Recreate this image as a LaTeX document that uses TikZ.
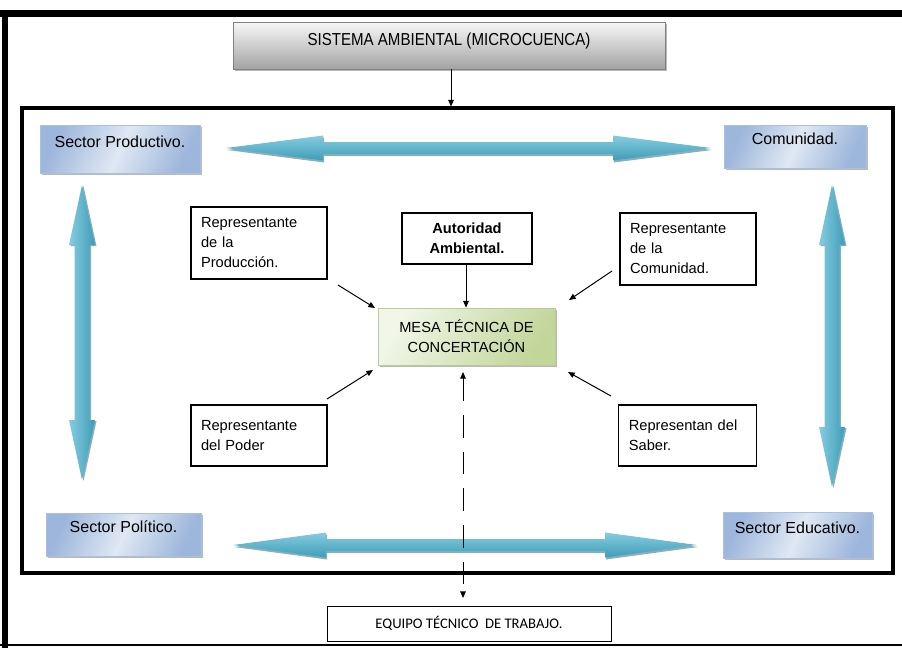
\documentclass[tikz,border=0pt]{standalone}
\usepackage{fontspec}
\setmainfont{Liberation Sans}
\newfontfamily\calibrifont{Carlito}
\usetikzlibrary{arrows.meta,shadows}

\definecolor{secDark}{HTML}{9DB6DB}
\definecolor{secLight}{HTML}{DFE8F3}
\definecolor{secEdge}{HTML}{A9C0E0}
\definecolor{greyTop}{HTML}{F7F7F7}
\definecolor{greyBot}{HTML}{A3A3A3}
\definecolor{greenLight}{HTML}{F1F6E8}
\definecolor{greenDark}{HTML}{C2D69A}
\definecolor{greenEdge}{HTML}{B9CC93}
\definecolor{tealLight}{HTML}{86CCDE}
\definecolor{tealDark}{HTML}{3E9DB8}
\definecolor{tealShadow}{HTML}{2A6E82}

% lift the label of a sector box towards its top edge
\newcommand\liftlabel[1]{\raisebox{5.5pt}[\height][\depth]{#1}}

\begin{document}
\begin{tikzpicture}[
  x=0.75pt, y=-0.75pt,
  every node/.style={font=\fontsize{11}{15}\selectfont},
  boxsize/.style 2 args={minimum width=#1*0.75pt, minimum height=#2*0.75pt, inner sep=0pt},
  softshadow/.style={drop shadow={shadow xshift=1.6pt, shadow yshift=-1.6pt, fill=black!55, opacity=.5}},
  sector/.style={draw=secEdge, line width=0.6pt, left color=secDark, right color=secDark,
    middle color=secLight, shading angle=65, softshadow, font=\fontsize{12}{15}\selectfont},
  plainbox/.style={draw=black, line width=0.8pt, fill=white, align=left, text width=87pt},
  link/.style={line width=0.75pt, -{Triangle[length=5pt,width=4.2pt]}},
  bigarrow/.style={top color=tealLight, bottom color=tealDark},
  bigarrowv/.style={left color=tealLight, right color=tealDark},
  arrowshade/.style={fill=tealShadow, opacity=.55}
]
\useasboundingbox (0,0) rectangle (902,647);

% outer frame, open on the right
\draw[line width=5pt] (0,13.5) -- (920,13.5);
\draw[line width=4.5pt] (5,10) -- (5,650);
\draw[line width=2.2pt] (0,645) -- (920,645);

% inner frame holding the actors
\node[draw, line width=2.3pt, boxsize={871}{465}] (frame) at (457.5,340.5) {};

% environmental system
\node[draw=black!50, line width=0.6pt, top color=greyTop, bottom color=greyBot, softshadow,
  boxsize={432}{47}, font=\fontsize{13}{15}\selectfont] (sys) at (449,45.5)
  {\raisebox{3pt}[\height][\depth]{\scalebox{0.87}[1]{SISTEMA AMBIENTAL (MICROCUENCA)}}};
\draw[link] (sys.south -| 451,0) -- (frame.north -| 451,0);

% sectors in the corners
\node[sector, boxsize={160}{48}] (sprod) at (120,149) {\liftlabel{Sector Productivo.}};
\node[sector, boxsize={142}{43}] (scom) at (795,146.5) {\liftlabel{Comunidad.}};
\node[sector, boxsize={155}{43}] (spol) at (123.5,534.5) {\liftlabel{Sector Político.}};
\node[sector, boxsize={149}{46}] (sedu) at (797.5,535) {\liftlabel{Sector Educativo.}};

% large two-way arrows between the sectors
\begin{scope}
  \fill[arrowshade] (227,150) -- (324,137.5) -- (324,144) -- (614,144) -- (614,137.5) -- (712,150)
    -- (614,162.5) -- (614,156) -- (324,156) -- (324,162.5) -- cycle;
  \shade[bigarrow] (226,148) -- (323,135.5) -- (323,142) -- (613,142) -- (613,135.5) -- (711,148)
    -- (613,160.5) -- (613,154) -- (323,154) -- (323,160.5) -- cycle;

  \fill[arrowshade] (234,547) -- (327,534.5) -- (327,541) -- (606,541) -- (606,534.5) -- (698,547)
    -- (606,559.5) -- (606,553) -- (327,553) -- (327,559.5) -- cycle;
  \shade[bigarrow] (233,545) -- (326,532.5) -- (326,539) -- (605,539) -- (605,532.5) -- (697,545)
    -- (605,557.5) -- (605,551) -- (326,551) -- (326,557.5) -- cycle;

  \fill[arrowshade] (83.5,186) -- (96.5,246) -- (91,246) -- (91,421) -- (96.5,421) -- (83.5,481)
    -- (70.5,421) -- (76,421) -- (76,246) -- (70.5,246) -- cycle;
  \shade[bigarrowv] (82,185) -- (95,245) -- (89.5,245) -- (89.5,420) -- (95,420) -- (82,480)
    -- (69,420) -- (74.5,420) -- (74.5,245) -- (69,245) -- cycle;

  \fill[arrowshade] (833.5,186) -- (846.5,246) -- (841,246) -- (841,428) -- (846.5,428) -- (833.5,488)
    -- (820.5,428) -- (826,428) -- (826,246) -- (820.5,246) -- cycle;
  \shade[bigarrowv] (832,185) -- (845,245) -- (839.5,245) -- (839.5,427) -- (845,427) -- (832,487)
    -- (819,427) -- (824.5,427) -- (824.5,245) -- (819,245) -- cycle;
\end{scope}

% representatives around the round table
\node[plainbox, boxsize={136}{72}, text width=87pt, inner xsep=7.5pt] (rprod) at (259,243)
  {Representante\\de la\\Producción.};
\node[plainbox, boxsize={130}{51}, text width=85pt, align=center, font=\fontsize{11}{15}\selectfont\bfseries] (aut) at (467,238.5)
  {Autoridad\\Ambiental.};
\node[plainbox, boxsize={136}{72}, text width=87pt, inner xsep=7.5pt] (rcom) at (688,249)
  {Representante\\de la\\Comunidad.};
\node[plainbox, boxsize={136}{61}, text width=87pt, inner xsep=7.5pt] (rpod) at (259,435.5)
  {Representante\\del Poder};
\node[plainbox, boxsize={137}{61}, text width=88pt, inner xsep=7.5pt] (rsab) at (687.5,435.5)
  {Representan del\\Saber.};

\node[draw=greenEdge, line width=0.6pt, left color=greenLight, right color=greenDark,
  shading angle=60, softshadow, align=center, boxsize={177}{57}] (mesa) at (466.5,336.5)
  {MESA TÉCNICA DE\\CONCERTACIÓN};

\node[draw=black, line width=0.75pt, fill=white, boxsize={284}{35},
  font=\calibrifont\fontsize{11}{13}\selectfont] (equipo) at (469,623.5)
  {EQUIPO TÉCNICO\ \ DE TRABAJO.};

% links into the round table
\coordinate (prodA) at (338,285);  \coordinate (prodB) at (375,308);
\coordinate (comA)  at (612,271);  \coordinate (comB)  at (569,300);
\coordinate (podA)  at (327,399);  \coordinate (podB)  at (373,370);
\coordinate (sabA)  at (611,396);  \coordinate (sabB)  at (568,372);
\draw[link] (prodA) -- (prodB);
\draw[link] (comA) -- (comB);
\draw[link] (podA) -- (podB);
\draw[link] (sabA) -- (sabB);
\draw[link] (aut.south -| 466,0) -- (mesa.north -| 466,0);

% dashed two-way link to the technical team
\coordinate (dashTop) at (463,372);
\coordinate (dashBot) at (463,598);
\draw[line width=0.75pt, dash pattern=on 17pt off 10.5pt,
  {Triangle[length=5pt,width=4.2pt]}-{Triangle[length=5pt,width=4.2pt]}] (dashTop) -- (dashBot);

\end{tikzpicture}
\end{document}
